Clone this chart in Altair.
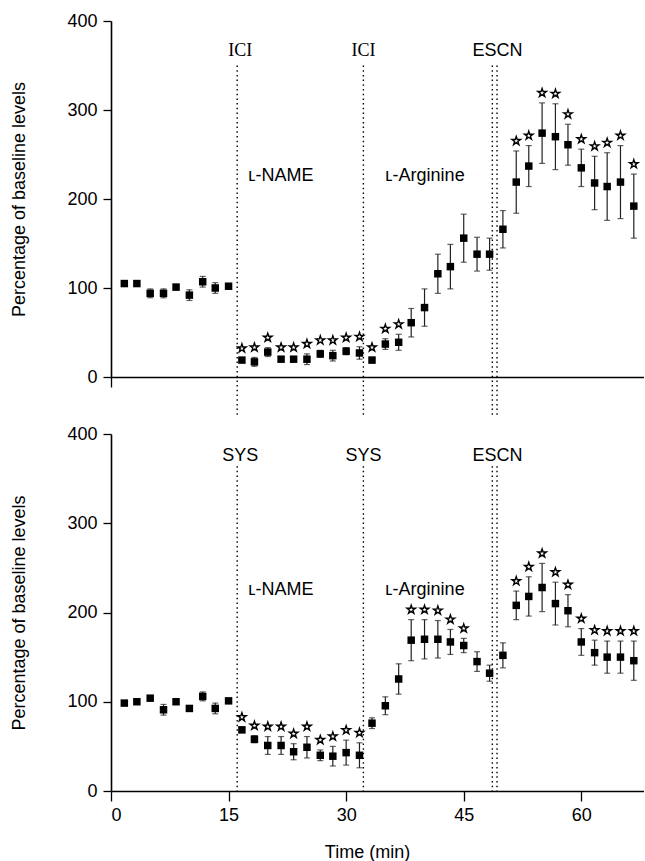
import altair as alt
import pandas as pd

# ---------------- data ----------------
time_min = [1.7, 3.3, 5.0, 6.7, 8.3, 10.0, 11.7, 13.3, 15.0, 16.7,
            18.3, 20.0, 21.7, 23.3, 25.0, 26.7, 28.3, 30.0, 31.7, 33.3,
            35.0, 36.7, 38.3, 40.0, 41.7, 43.3, 45.0, 46.7, 48.3, 50.0,
            51.7, 53.3, 55.0, 56.7, 58.3, 60.0, 61.7, 63.3, 65.0, 66.7]

top_mean = [105, 105, 94, 94, 101, 92, 107, 100, 102, 19,
            17, 28, 20, 20, 20, 26, 24, 29, 27, 19,
            37, 39, 61, 78, 116, 124, 156, 138, 138, 166,
            219, 237, 274, 270, 261, 235, 218, 214, 219, 192]
top_err = [1, 1, 5, 5, 3, 6, 6, 6, 2, 2,
           5, 5, 2, 2, 6, 4, 6, 4, 7, 3,
           6, 9, 16, 21, 22, 25, 27, 19, 18, 21,
           35, 23, 34, 37, 23, 21, 30, 38, 41, 36]
top_star = [0, 0, 0, 0, 0, 0, 0, 0, 0, 1,
            1, 1, 1, 1, 1, 1, 1, 1, 1, 1,
            1, 1, 0, 0, 0, 0, 0, 0, 0, 0,
            1, 1, 1, 1, 1, 1, 1, 1, 1, 1]

bot_mean = [98.5, 100, 104, 91, 100, 92.5, 106, 92.5, 101, 68.5,
            58, 51, 51, 44, 49, 40, 39, 43, 40, 76,
            95.5, 125.5, 169, 170, 170, 167, 163, 145, 132, 152,
            208, 218, 228, 210, 202, 167, 155, 150, 150, 146]
bot_err = [2, 2, 2, 6, 3, 3, 5, 6, 2, 3,
           4, 10, 10, 9, 12, 6, 11, 14, 14, 6,
           10, 17, 23, 22, 21, 14, 8, 11, 9, 14,
           16, 22, 27, 24, 18, 15, 14, 18, 18, 22]
bot_star = [0, 0, 0, 0, 0, 0, 0, 0, 0, 1,
            1, 1, 1, 1, 1, 1, 1, 1, 1, 0,
            0, 0, 1, 1, 1, 1, 1, 0, 0, 0,
            1, 1, 1, 1, 1, 1, 1, 1, 1, 1]

# event lines (min)
line_t = [16.1, 32.2, 48.65, 49.25]
top_event_labels = ["ICI", "ICI"]
bot_event_labels = ["SYS", "SYS"]
event_label_t = [16.5, 32.2]
escn_label = ["ESCN"]
escn_t = [49.3]
drug_labels = ["\u029f-NAME", "\u029f-Arginine"]
drug_label_t = [17.5, 35.0]

FONT = "Liberation Sans"
YTITLE = "Percentage of baseline levels"
STAR = ("M0,-1L0.2245,-0.309L0.951,-0.309L0.363,0.118L0.588,0.809L0,0.382"
        "L-0.588,0.809L-0.363,0.118L-0.951,-0.309L-0.2245,-0.309Z")

W = 533


def make_panel(mean, err, star, ev_labels, ev_font, ev_y, drug_y, line_top,
               line_bot, height, bottom):
    df = pd.DataFrame({"t": time_min, "m": mean, "e": err, "s": star})
    df["lo"] = df["m"] - df["e"]
    df["hi"] = df["m"] + df["e"]

    if bottom:
        xaxis = alt.Axis(values=[0, 15, 30, 45, 60], title="Time (min)",
                         tickSize=10, labelFontSize=18, labelPadding=5,
                         titleFontSize=18, titleX=256, titleY=61,
                         titleBaseline="middle", titleAlign="center")
    else:
        xaxis = alt.Axis(values=[0], labels=False, title="", tickSize=10)
    xs = alt.Scale(domain=[0, 68], nice=False, zero=False)
    ys = alt.Scale(domain=[0, 400], nice=False)
    yaxis = alt.Axis(values=[0, 100, 200, 300, 400], title=YTITLE,
                     tickSize=8, labelFontSize=18, labelPadding=6,
                     titleFontSize=18, titleAngle=270, titleX=-92,
                     titleY=height / 2, titleAlign="center",
                     titleBaseline="middle")

    def X(f):
        return alt.X(f"{f}:Q", scale=xs, axis=xaxis)

    def Y(f):
        return alt.Y(f"{f}:Q", scale=ys, axis=yaxis)

    base = alt.Chart(df)
    bars = base.mark_rule(color="#222", strokeWidth=1.2).encode(
        x=X("t"), y=Y("lo"), y2="hi")
    cap_hi = base.mark_tick(orient="horizontal", size=6, thickness=1.2,
                            color="#222").encode(x=X("t"), y=Y("hi"))
    cap_lo = base.mark_tick(orient="horizontal", size=6, thickness=1.2,
                            color="#222").encode(x=X("t"), y=Y("lo"))
    pts = base.mark_square(size=56, color="black", opacity=1).encode(
        x=X("t"), y=Y("m"))
    stars = base.transform_filter("datum.s == 1").mark_point(
        shape=STAR, size=80, filled=False, stroke="black", strokeWidth=1.4,
        yOffset=-10, opacity=1).encode(x=X("t"), y=Y("hi"))

    ldf = pd.DataFrame({"t": line_t, "a": [line_top] * 4, "b": [line_bot] * 4})
    vlines = alt.Chart(ldf).mark_rule(
        color="black", strokeWidth=1.4, strokeDash=[1.5, 3.2]).encode(
        x=X("t"), y=Y("a"), y2="b")

    edf = pd.DataFrame({"t": event_label_t, "y": [ev_y] * 2,
                        "txt": ev_labels})
    ev_text = alt.Chart(edf).mark_text(
        fontSize=18, align="center", baseline="middle", font=ev_font).encode(
        x=X("t"), y=Y("y"), text="txt:N")

    sdf = pd.DataFrame({"t": escn_t, "y": [ev_y], "txt": escn_label})
    es_text = alt.Chart(sdf).mark_text(
        fontSize=18, align="center", baseline="middle", font=FONT).encode(
        x=X("t"), y=Y("y"), text="txt:N")

    ddf = pd.DataFrame({"t": drug_label_t, "y": [drug_y, drug_y],
                        "txt": drug_labels})
    d_text = alt.Chart(ddf).mark_text(
        fontSize=18, align="left", baseline="middle", font=FONT).encode(
        x=X("t"), y=Y("y"), text="txt:N")

    return alt.layer(bars, cap_hi, cap_lo, pts, stars, vlines, ev_text,
                     es_text, d_text).properties(width=W, height=height)


top = make_panel(top_mean, top_err, top_star, top_event_labels,
                 "Liberation Serif", 366, 226, 350, -45, 356, False)
bot = make_panel(bot_mean, bot_err, bot_star, bot_event_labels,
                 FONT, 375, 225, 364, 0, 357, True)

chart = alt.vconcat(top, bot, spacing=57, bounds="flush").properties(
    padding={"left": 10, "top": 12, "right": 0, "bottom": 0}
).configure_view(stroke=None).configure_axis(
    grid=False, domainColor="black", tickColor="black", labelColor="black",
    titleColor="black", domainWidth=1.6, tickWidth=1.3, labelFont=FONT,
    titleFont=FONT, titleFontWeight="normal"
).configure_text(color="black")

chart.save("out.html", embed_options={"renderer": "svg", "actions": False})
